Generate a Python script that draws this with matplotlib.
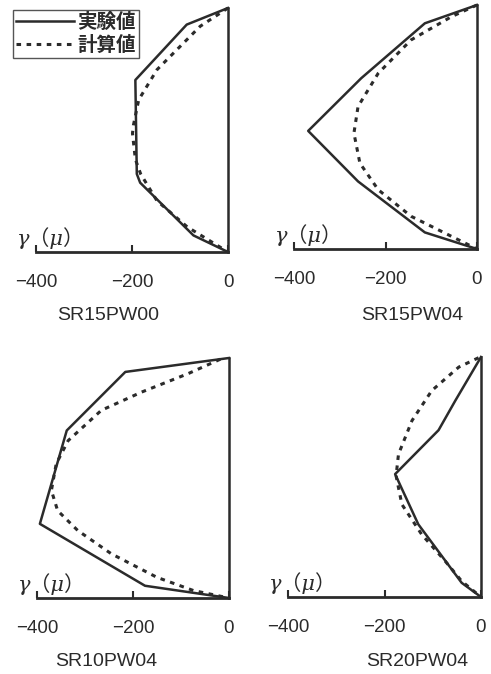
import matplotlib
matplotlib.use("Agg")
import matplotlib.pyplot as plt

plt.rcParams['font.family'] = ['Liberation Sans', 'Noto Sans CJK JP', 'DejaVu Sans']

INK = '#2b2b2b'

# strain gamma (micro) vs. normalised height
names = ['SR15PW00', 'SR15PW04', 'SR10PW04', 'SR20PW04']

# measured (実験値)
exp_x = [
    [0, -86, -193, -190, -183, -72, 0],
    [0, -114, -253, -369, -260, -114, 0],
    [0, -216, -338, -394, -175, 0],
    [0, -53, -88, -178, -130, -40, 0],
]
exp_y = [
    [1.0, 0.932, 0.705, 0.32, 0.284, 0.068, 0.0],
    [1.0, 0.925, 0.70, 0.484, 0.277, 0.068, 0.0],
    [1.0, 0.942, 0.698, 0.309, 0.051, 0.0],
    [1.0, 0.819, 0.695, 0.512, 0.303, 0.059, 0.0],
]

# calculated (計算値)
calc_x = [
    [0, -58, -148, -186, -197, -199, -193, -182, -148, -85, 0],
    [0, -56, -144, -216, -260, -269, -256, -216, -144, -56, 0],
    [-18, -85, -182, -266, -335, -360, -370, -357, -315, -245, -150, -74, 0],
    [-5, -46, -102, -143, -171, -176, -164, -123, -74, -40, 0],
]
calc_y = [
    [1.0, 0.925, 0.747, 0.624, 0.52, 0.486, 0.38, 0.32, 0.21, 0.103, 0.0],
    [1.0, 0.952, 0.857, 0.72, 0.584, 0.475, 0.352, 0.243, 0.134, 0.052, 0.0],
    [0.995, 0.935, 0.858, 0.782, 0.656, 0.559, 0.448, 0.364, 0.281, 0.184, 0.086, 0.031, 0.0],
    [0.997, 0.958, 0.86, 0.735, 0.595, 0.505, 0.386, 0.261, 0.149, 0.066, 0.0],
]

xticks = [-400, -200, 0]
xticklabels = ['\u2212400', '\u2212200', '0']

# axes boxes in pixels: left, top, right, bottom
W, H = 491, 674
boxes = [(36, 8, 228, 252), (294, 5, 477, 249), (37, 358, 229, 598), (288, 357, 481, 597)]
name_pos = [(108, 315), (412, 315), (106, 662), (417, 662)]

fig = plt.figure(figsize=(W / 100, H / 100), dpi=100)
fig.patch.set_facecolor('white')

axes = []
for i in range(4):
    l, t, r, b = boxes[i]
    ax = fig.add_axes([l / W, 1 - b / H, (r - l) / W, (b - t) / H])
    ax.plot(exp_x[i], exp_y[i], color=INK, lw=1.8, clip_on=False, label='実験値')
    ax.plot(calc_x[i], calc_y[i], color=INK, lw=2.2, ls=(0, (1.5, 1.8)),
            clip_on=False, label='計算値')
    ax.set_xlim(-400, 0)
    ax.set_ylim(0, 1)
    for s in ['top', 'left']:
        ax.spines[s].set_visible(False)
    ax.spines['bottom'].set_linewidth(2.0)
    ax.spines['right'].set_linewidth(1.8)
    ax.spines['bottom'].set_color(INK)
    ax.spines['right'].set_color(INK)
    ax.set_yticks([])
    ax.set_xticks(xticks)
    ax.set_xticklabels(xticklabels, fontsize=13.5, color=INK)
    ax.tick_params(axis='x', direction='in', length=5, width=1.5, color=INK, pad=16)
    ax.patch.set_alpha(0)
    ax.annotate('γ\uff08μ\uff09', xy=(-400, 0), xytext=(-14, 2), textcoords='offset points',
                fontsize=15, style='italic', color=INK, ha='left', va='bottom',
                family=['DejaVu Serif', 'Noto Sans CJK JP'])
    x, y = name_pos[i]
    fig.text(x / W, 1 - y / H, names[i], fontsize=14, color=INK, ha='center', va='center')
    axes.append(ax)

leg = axes[0].legend(loc='upper left', bbox_to_anchor=(13 / W, 1 - 10 / H),
                     bbox_transform=fig.transFigure, frameon=True, fancybox=False,
                     prop={'family': ['Noto Sans CJK JP', 'DejaVu Sans'], 'size': 14, 'weight': 'bold'},
                     handlelength=3.0, handletextpad=0.15, labelspacing=0.2,
                     borderpad=0.15, borderaxespad=0)
leg.get_frame().set_edgecolor(INK)
leg.get_frame().set_linewidth(1.0)
for txt in leg.get_texts():
    txt.set_color(INK)

fig.savefig('out.png', dpi=100, facecolor='white')
